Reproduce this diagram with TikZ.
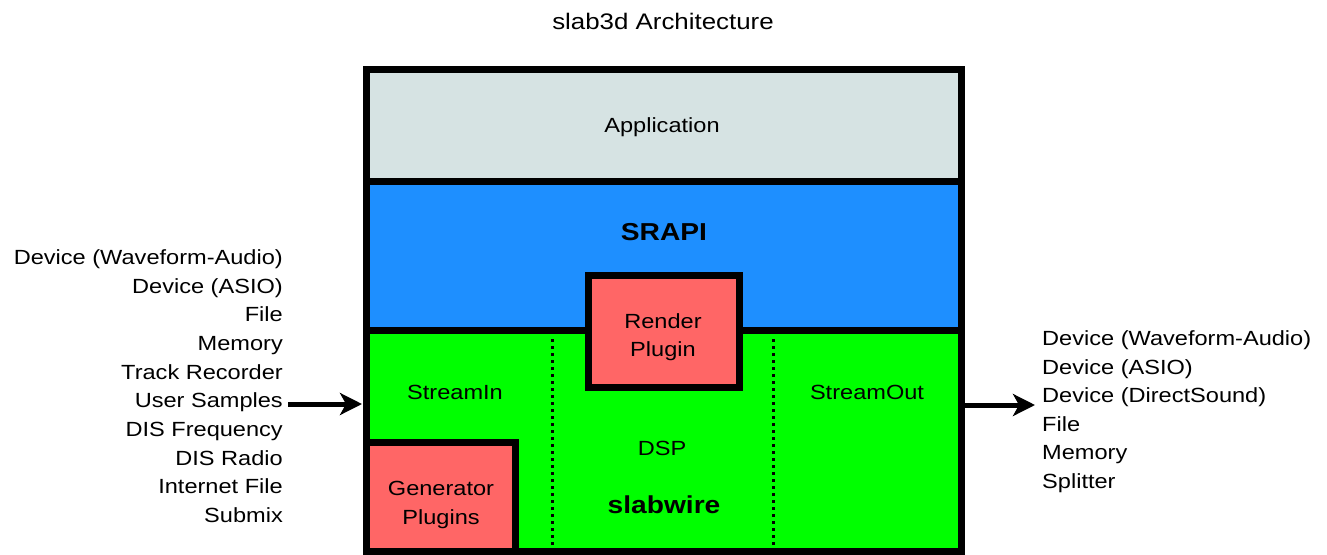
\documentclass[tikz,border=0pt]{standalone}
\usepackage{fontspec}
\setmainfont{Liberation Sans}[FakeStretch=1.15]
\usetikzlibrary{arrows.meta, positioning}

\definecolor{appgray}{HTML}{D6E3E3}
\definecolor{srapiblue}{HTML}{1E8FFF}
\definecolor{wiregreen}{HTML}{00FF00}
\definecolor{pluginred}{HTML}{FF6666}

\tikzset{
    txt/.style={font=\fontsize{20.5}{28.5}\selectfont, inner sep=0pt, align=center},
    listtxt/.style={font=\fontsize{20.5}{28.5}\selectfont, inner sep=0pt, text height=15pt, text depth=2pt},
    boldtxt/.style={font=\fontsize{24.5}{28}\selectfont\bfseries, inner sep=0pt},
    frame/.style={line width=7pt},
    plugin/.style={fill=pluginred, draw=black, line width=7pt},
    sep/.style={line width=3pt, dash pattern=on 3pt off 4pt},
    flow/.style={line width=5pt, -{Stealth[length=22pt, width=22pt, inset=6pt]}}
}

\begin{document}
\begin{tikzpicture}[x=1pt, y=-1pt]
    \useasboundingbox (0,0) rectangle (1327,554);

    % layers
    \fill[appgray] (366,69) rectangle (961,181);
    \fill[srapiblue] (366,181) rectangle (961,330);
    \fill[wiregreen] (366,330) rectangle (961,551);
    \draw[frame] (366,181) -- (961,181);
    \draw[frame] (366,330) -- (961,330);
    \draw[sep] (552,339) -- (552,549);
    \draw[sep] (773,339) -- (773,549);
    \draw[frame] (366,69) rectangle (961,551);

    % plugins
    \draw[plugin] (588,275) rectangle (739,387);
    \draw[plugin] (366,442) rectangle (515,551);

    \node[txt, font=\fontsize{22.5}{26}\selectfont] (title) at (663,21) {slab3d Architecture};
    \node[txt] (app) at (662,127) {Application};
    \node[boldtxt] (srapi) at (664,232) {SRAPI};
    \node[txt] (render) at (663,337) {Render\\Plugin};
    \node[txt] (streamin) at (455,392) {StreamIn};
    \node[txt] (streamout) at (867,392) {StreamOut};
    \node[txt] (dsp) at (662,448) {DSP};
    \node[boldtxt] (slabwire) at (664,505) {slabwire};
    \node[txt] (gen) at (441,505) {Generator\\Plugins};

    % sources and sinks
    \foreach \s [count=\i] in {Device (Waveform-Audio), Device (ASIO), File, Memory, Track Recorder,
        User Samples, DIS Frequency, DIS Radio, Internet File, Submix}
        \node[listtxt, anchor=east] (src\i) at (283, 229.35+28.65*\i) {\s};
    \foreach \s [count=\i] in {Device (Waveform-Audio), Device (ASIO), Device (DirectSound), File,
        Memory, Splitter}
        \node[listtxt, anchor=west] (sink\i) at (1042, 310.4+28.6*\i) {\s};

    \coordinate (inL) at ([xshift=5pt]src6.east);
    \coordinate (inR) at (362,404);
    \coordinate (outL) at (965,405);
    \coordinate (outR) at (1035,405);
    \draw[flow] (inL |- inR) -- (inR);
    \draw[flow] (outL) -- (outR);
\end{tikzpicture}
\end{document}
